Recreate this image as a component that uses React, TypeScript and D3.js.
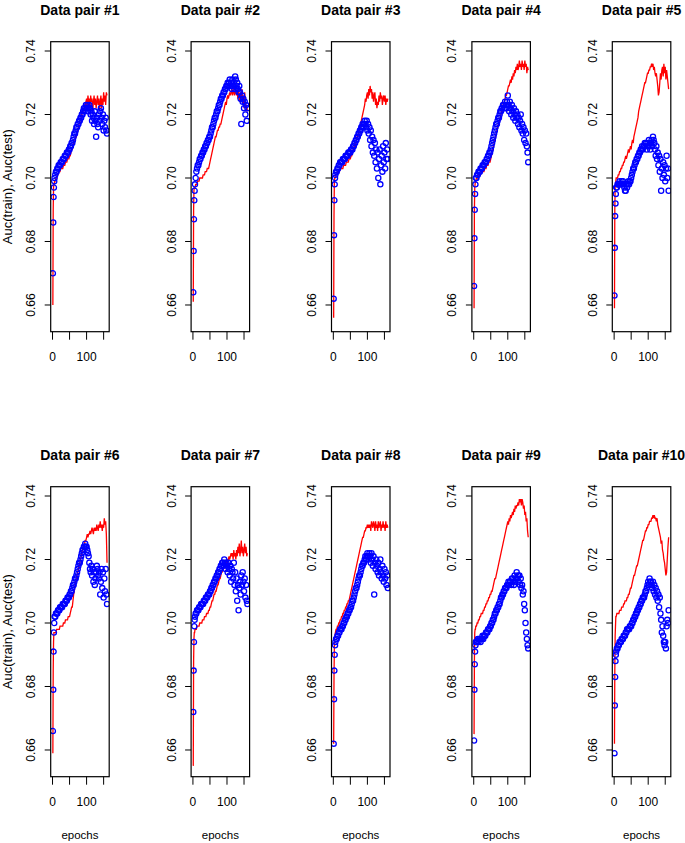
import { useRef, useEffect } from "react";
import * as d3 from "d3";

// epochs sampled: every epoch for the first six, then every second epoch
const epochs = [1, 2, 3, 4, 5, 6, ...d3.range(8, 161, 2)];

const panelTitles = [
  "Data pair #1", "Data pair #2", "Data pair #3", "Data pair #4", "Data pair #5",
  "Data pair #6", "Data pair #7", "Data pair #8", "Data pair #9", "Data pair #10",
];

const yTicks = [0.66, 0.68, 0.7, 0.72, 0.74];
const yTickLabels = ["0.66", "0.68", "0.70", "0.72", "0.74"];
const xTicks = [0, 50, 100, 150];
const xTickLabels = ["0", "", "100", ""];

// Auc(train) — red lines
const train1 = [
  .660, .690, .697, .698, .698, .699,
  .699, .700, .700, .701, .701, .702, .702, .702, .703, .703,
  .703, .703, .704, .704, .704, .705, .705, .705, .706, .706,
  .706, .707, .707, .708, .709, .709, .710, .711, .711, .712,
  .713, .713, .714, .715, .716, .717, .718, .718, .719, .720,
  .721, .722, .721, .723, .722, .724, .725, .723, .726, .724,
  .725, .722, .726, .724, .725, .721, .724, .726, .723, .725,
  .722, .724, .726, .723, .725, .721, .724, .726, .722, .725,
  .723, .727, .724, .726, .723, .727, .726,
];
const train2 = [
  .661, .690, .696, .697, .697, .697,
  .698, .698, .698, .699, .699, .699, .700, .700, .700, .700,
  .700, .701, .701, .701, .702, .702, .702, .703, .703, .703,
  .704, .705, .706, .707, .708, .709, .710, .711, .712, .713,
  .713, .714, .715, .715, .716, .716, .717, .717, .718, .719,
  .720, .721, .722, .723, .724, .723, .725, .726, .725, .726,
  .727, .726, .727, .728, .726, .727, .728, .726, .727, .728,
  .726, .727, .725, .728, .726, .724, .727, .725, .728, .723,
  .726, .722, .727, .724, .721, .723, .721,
];
const train3 = [
  .656, .688, .699, .700, .700, .701,
  .701, .701, .702, .702, .702, .702, .703, .703, .703, .703,
  .703, .704, .704, .704, .704, .705, .705, .705, .705, .706,
  .706, .706, .707, .707, .708, .709, .709, .710, .711, .711,
  .712, .713, .713, .714, .715, .716, .717, .718, .719, .720,
  .721, .722, .723, .725, .724, .726, .727, .725, .728, .726,
  .729, .727, .728, .725, .727, .724, .726, .727, .723, .725,
  .722, .724, .723, .726, .724, .727, .725, .726, .723, .725,
  .726, .724, .726, .723, .725, .724, .725,
];
const train4 = [
  .659, .690, .697, .698, .699, .699,
  .700, .700, .700, .701, .701, .701, .701, .702, .702, .702,
  .702, .702, .703, .703, .703, .704, .704, .704, .705, .705,
  .705, .706, .707, .708, .709, .710, .711, .712, .713, .714,
  .715, .716, .717, .717, .718, .719, .720, .721, .722, .723,
  .723, .724, .725, .726, .726, .727, .728, .729, .729, .730,
  .731, .730, .732, .731, .733, .732, .734, .733, .735, .734,
  .736, .734, .735, .737, .735, .736, .734, .737, .735, .736,
  .734, .737, .735, .736, .733, .735, .734,
];
const train5 = [
  .659, .690, .697, .698, .699, .700,
  .700, .700, .701, .701, .702, .702, .703, .703, .704, .704,
  .705, .705, .706, .707, .706, .707, .708, .709, .708, .709,
  .710, .709, .711, .712, .711, .713, .714, .715, .716, .717,
  .718, .719, .721, .722, .723, .724, .725, .726, .727, .728,
  .729, .730, .730, .731, .732, .733, .733, .734, .734, .735,
  .735, .736, .735, .736, .734, .735, .733, .732, .733, .731,
  .729, .726, .727, .730, .733, .731, .734, .735, .732, .736,
  .733, .735, .731, .734, .732, .730, .728,
];
const train6 = [
  .659, .685, .694, .697, .697, .697,
  .697, .697, .698, .698, .698, .698, .698, .699, .699, .699,
  .699, .699, .700, .700, .700, .701, .701, .701, .701, .702,
  .702, .702, .703, .704, .705, .705, .707, .709, .710, .712,
  .713, .714, .715, .716, .717, .718, .719, .720, .721, .722,
  .723, .724, .724, .725, .726, .726, .727, .728, .727, .728,
  .728, .729, .728, .729, .730, .729, .728, .730, .729, .730,
  .729, .731, .730, .729, .731, .730, .732, .730, .731, .729,
  .731, .730, .733, .731, .732, .728, .719,
];
const train7 = [
  .655, .688, .695, .697, .697, .698,
  .698, .698, .699, .699, .699, .699, .700, .700, .700, .700,
  .701, .701, .701, .702, .702, .702, .703, .703, .703, .704,
  .704, .705, .705, .706, .707, .707, .708, .709, .709, .710,
  .710, .711, .712, .712, .713, .714, .714, .715, .716, .716,
  .717, .717, .718, .718, .719, .719, .720, .719, .720, .721,
  .720, .721, .722, .721, .722, .720, .723, .721, .722, .720,
  .723, .721, .724, .722, .725, .721, .723, .726, .722, .724,
  .721, .723, .725, .722, .724, .721, .722,
];
const train8 = [
  .662, .683, .692, .695, .696, .697,
  .698, .698, .699, .699, .700, .700, .701, .701, .702, .702,
  .703, .703, .704, .704, .705, .705, .706, .706, .707, .707,
  .708, .709, .710, .711, .712, .713, .714, .715, .716, .717,
  .718, .719, .720, .721, .722, .723, .724, .725, .726, .727,
  .727, .728, .729, .729, .730, .730, .731, .730, .731, .730,
  .731, .729, .732, .731, .730, .732, .731, .729, .732, .730,
  .731, .729, .732, .730, .731, .732, .729, .731, .730, .732,
  .730, .731, .729, .732, .730, .731, .730,
];
const train9 = [
  .665, .688, .697, .698, .698, .699,
  .699, .700, .700, .701, .701, .702, .702, .703, .703, .703,
  .704, .704, .705, .705, .706, .706, .707, .707, .708, .708,
  .709, .709, .710, .710, .711, .712, .713, .714, .714, .715,
  .716, .717, .718, .719, .720, .721, .722, .723, .724, .725,
  .726, .727, .728, .729, .730, .731, .732, .731, .733, .732,
  .734, .733, .734, .735, .734, .736, .735, .737, .736, .737,
  .737, .738, .737, .739, .738, .739, .737, .739, .738, .736,
  .737, .734, .735, .732, .733, .729, .727,
];
const train10 = [
  .662, .685, .696, .699, .702, .702,
  .703, .703, .703, .703, .704, .704, .704, .705, .705, .705,
  .706, .706, .707, .707, .707, .708, .708, .709, .709, .710,
  .711, .711, .712, .713, .714, .715, .715, .716, .717, .718,
  .718, .719, .720, .721, .722, .723, .724, .725, .726, .726,
  .727, .728, .729, .729, .730, .730, .731, .731, .732, .732,
  .732, .733, .733, .734, .733, .734, .733, .733, .732, .733,
  .731, .730, .729, .728, .727, .725, .726, .723, .722, .720,
  .719, .717, .715, .716, .720, .724, .727,
];

// Auc(test) — blue circles
const test1 = [
  .670, .686, .694, .697, .699, .700,
  .701, .702, .702, .703, .703, .704, .704, .704, .705, .705,
  .705, .706, .706, .706, .707, .707, .707, .708, .708, .708,
  .709, .709, .710, .710, .711, .711, .712, .713, .714, .714,
  .715, .716, .716, .717, .717, .718, .718, .719, .719, .720,
  .720, .721, .722, .721, .722, .723, .722, .723, .721, .722,
  .723, .722, .720, .721, .718, .720, .719, .717, .721, .718,
  .713, .719, .717, .716, .720, .718, .721, .722, .719, .717,
  .720, .715, .718, .716, .719, .715, .714,
];
const test2 = [
  .664, .677, .687, .693, .696, .698,
  .700, .702, .703, .704, .704, .705, .706, .706, .707, .707,
  .708, .708, .709, .709, .710, .710, .711, .711, .712, .712,
  .713, .713, .714, .715, .716, .716, .717, .718, .719, .719,
  .720, .721, .721, .722, .723, .723, .724, .725, .725, .726,
  .726, .727, .727, .728, .728, .729, .729, .730, .729, .730,
  .731, .729, .730, .728, .731, .729, .730, .728, .732, .731,
  .729, .730, .728, .727, .729, .727, .725, .717, .726, .724,
  .725, .722, .724, .720, .723, .718, .722,
];
const test3 = [
  .662, .682, .693, .698, .700, .701,
  .702, .702, .703, .703, .704, .704, .705, .705, .705, .705,
  .706, .706, .706, .706, .707, .707, .707, .707, .708, .708,
  .708, .708, .709, .709, .709, .710, .710, .711, .711, .712,
  .712, .713, .713, .714, .714, .715, .715, .716, .716, .717,
  .716, .717, .718, .717, .716, .718, .715, .717, .714, .716,
  .712, .715, .710, .713, .708, .712, .707, .711, .705, .709,
  .703, .708, .700, .706, .709, .698, .704, .707, .702, .710,
  .705, .708, .703, .711, .706, .709, .706,
];
const test4 = [
  .666, .681, .690, .695, .698, .700,
  .700, .701, .701, .702, .702, .702, .703, .703, .703, .704,
  .704, .704, .705, .705, .705, .706, .706, .707, .707, .708,
  .708, .709, .710, .711, .712, .713, .714, .715, .716, .717,
  .717, .718, .719, .719, .720, .721, .721, .722, .722, .723,
  .723, .722, .724, .723, .722, .724, .726, .723, .721, .724,
  .722, .720, .723, .721, .719, .722, .720, .718, .721, .719,
  .720, .717, .719, .716, .718, .720, .715, .717, .714, .716,
  .712, .715, .711, .714, .710, .708, .705,
];
const test5 = [
  .663, .678, .688, .692, .695, .697,
  .697, .698, .698, .698, .699, .698, .698, .699, .698, .699,
  .698, .697, .696, .696, .698, .697, .698, .699, .698, .699,
  .699, .700, .701, .702, .703, .703, .704, .705, .705, .706,
  .706, .707, .707, .708, .708, .709, .709, .710, .709, .710,
  .710, .711, .710, .711, .709, .711, .710, .712, .710, .709,
  .711, .712, .710, .713, .712, .711, .709, .707, .710, .706,
  .708, .704, .707, .702, .706, .696, .703, .700, .705, .701,
  .704, .699, .703, .707, .700, .703, .696,
];
const test6 = [
  .666, .679, .691, .697, .700, .702,
  .702, .703, .703, .703, .704, .704, .704, .705, .705, .705,
  .705, .706, .706, .706, .706, .707, .707, .707, .708, .708,
  .708, .709, .709, .710, .710, .711, .712, .712, .713, .714,
  .714, .715, .716, .717, .718, .719, .719, .720, .721, .722,
  .723, .723, .724, .724, .725, .724, .724, .723, .722, .721,
  .719, .717, .716, .718, .715, .717, .713, .716, .712, .714,
  .716, .718, .717, .715, .714, .716, .709, .713, .717, .711,
  .716, .708, .714, .710, .717, .709, .706,
];
const test7 = [
  .672, .685, .694, .699, .701, .702,
  .703, .703, .704, .704, .704, .705, .705, .705, .706, .706,
  .706, .706, .707, .707, .707, .708, .708, .708, .709, .709,
  .709, .710, .710, .711, .711, .712, .712, .713, .713, .714,
  .714, .715, .715, .716, .716, .717, .717, .718, .718, .719,
  .719, .718, .720, .719, .717, .719, .718, .716, .719, .717,
  .715, .718, .713, .717, .716, .714, .719, .712, .716, .710,
  .714, .707, .712, .704, .711, .713, .709, .715, .712, .716,
  .713, .710, .714, .708, .712, .707, .706,
];
const test8 = [
  .662, .676, .685, .690, .693, .694,
  .695, .695, .696, .696, .697, .697, .698, .698, .698, .699,
  .699, .700, .700, .701, .701, .702, .702, .703, .703, .704,
  .704, .705, .705, .706, .707, .707, .708, .709, .710, .711,
  .711, .712, .713, .714, .715, .715, .716, .717, .718, .718,
  .719, .719, .720, .721, .720, .721, .722, .721, .720, .722,
  .721, .719, .722, .720, .718, .721, .709, .719, .717, .720,
  .718, .716, .719, .715, .717, .720, .716, .714, .718, .715,
  .713, .717, .714, .716, .712, .715, .711,
];
const test9 = [
  .663, .679, .687, .691, .693, .694,
  .694, .694, .695, .694, .695, .695, .694, .695, .695, .696,
  .695, .696, .696, .696, .697, .697, .697, .698, .698, .698,
  .699, .699, .700, .700, .701, .701, .702, .703, .703, .704,
  .704, .705, .705, .706, .706, .707, .708, .708, .709, .709,
  .710, .710, .711, .711, .711, .712, .712, .713, .712, .713,
  .713, .712, .714, .713, .714, .712, .715, .713, .714, .716,
  .714, .715, .713, .715, .712, .714, .711, .712, .709, .710,
  .706, .704, .700, .697, .695, .693, .692,
];
const test10 = [
  .659, .674, .683, .688, .690, .691,
  .692, .692, .693, .693, .694, .694, .694, .695, .695, .695,
  .696, .696, .696, .697, .697, .698, .698, .698, .698, .699,
  .699, .699, .700, .700, .701, .701, .702, .702, .703, .703,
  .704, .704, .705, .705, .706, .706, .707, .707, .708, .708,
  .708, .709, .710, .710, .711, .712, .713, .712, .714, .713,
  .713, .712, .711, .713, .710, .712, .709, .711, .708, .710,
  .707, .709, .705, .708, .703, .701, .697, .699, .696, .694,
  .693, .694, .692, .699, .701, .700, .704,
];

const trainAuc = [train1, train2, train3, train4, train5, train6, train7, train8, train9, train10];
const testAuc = [test1, test2, test3, test4, test5, test6, test7, test8, test9, test10];

const WIDTH = 685;
const HEIGHT = 843;
const FONT = "'Liberation Sans', Arial, Helvetica, sans-serif";

export default function App() {
  const svgRef = useRef<SVGSVGElement>(null);

  useEffect(() => {
    if (!svgRef.current) return;
    const svg = d3.select(svgRef.current);
    svg.selectAll("*").remove();

    const boxW = 58.5;
    const boxH = 290;
    const colStep = 140.4;
    const rowStep = 445;
    const left0 = 50.7;
    const top0 = 41.7;

    // R-style axes: data range plus 4% on each side
    const x = d3.scaleLinear().domain([-5.36, 166.36]).range([0, boxW]);
    const y = d3.scaleLinear().domain([0.65159, 0.74293]).range([boxH, 0]);

    const line = d3
      .line<number>()
      .x((_, i) => x(epochs[i]))
      .y((d) => y(d));

    svg
      .append("defs")
      .append("clipPath")
      .attr("id", "plot-clip")
      .append("rect")
      .attr("width", boxW)
      .attr("height", boxH);

    panelTitles.forEach((title, p) => {
      const col = p % 5;
      const row = Math.floor(p / 5);
      const g = svg
        .append("g")
        .attr("transform", `translate(${left0 + col * colStep},${top0 + row * rowStep})`);

      // data
      const plot = g.append("g").attr("clip-path", "url(#plot-clip)");
      plot
        .append("path")
        .attr("d", line(trainAuc[p]))
        .attr("fill", "none")
        .attr("stroke", "#ff0000")
        .attr("stroke-width", 1.3);

      plot
        .selectAll("circle")
        .data(testAuc[p])
        .enter()
        .append("circle")
        .attr("cx", (_, i) => x(epochs[i]))
        .attr("cy", (d) => y(d))
        .attr("r", 2.6)
        .attr("fill", "none")
        .attr("stroke", "#0000ff")
        .attr("stroke-width", 1.3);

      // box
      g.append("rect")
        .attr("width", boxW)
        .attr("height", boxH)
        .attr("fill", "none")
        .attr("stroke", "#000")
        .attr("stroke-width", 1.2);

      // y axis
      yTicks.forEach((t, i) => {
        g.append("line")
          .attr("x1", 0)
          .attr("x2", -6)
          .attr("y1", y(t))
          .attr("y2", y(t))
          .attr("stroke", "#000");
        g.append("text")
          .attr("transform", `translate(-15.5,${y(t)}) rotate(-90)`)
          .attr("text-anchor", "middle")
          .attr("font-family", FONT)
          .attr("font-size", "12px")
          .attr("fill", "#000")
          .text(yTickLabels[i]);
      });

      // x axis
      xTicks.forEach((t, i) => {
        g.append("line")
          .attr("x1", x(t))
          .attr("x2", x(t))
          .attr("y1", boxH)
          .attr("y2", boxH + 8)
          .attr("stroke", "#000");
        if (xTickLabels[i]) {
          g.append("text")
            .attr("x", x(t))
            .attr("y", boxH + 29)
            .attr("text-anchor", "middle")
            .attr("font-family", FONT)
            .attr("font-size", "12px")
            .attr("fill", "#000")
            .text(xTickLabels[i]);
        }
      });

      // title
      g.append("text")
        .attr("x", boxW / 2)
        .attr("y", -27)
        .attr("text-anchor", "middle")
        .attr("font-family", FONT)
        .attr("font-size", "14px")
        .attr("font-weight", "bold")
        .attr("fill", "#000")
        .text(title);

      if (col === 0) {
        g.append("text")
          .attr("transform", `translate(${12 - left0},${boxH / 2}) rotate(-90)`)
          .attr("text-anchor", "middle")
          .attr("font-family", FONT)
          .attr("font-size", "13px")
          .attr("fill", "#000")
          .text("Auc(train), Auc(test)");
      }
      if (row === 1) {
        g.append("text")
          .attr("x", boxW / 2)
          .attr("y", HEIGHT - 4 - top0 - rowStep)
          .attr("text-anchor", "middle")
          .attr("font-family", FONT)
          .attr("font-size", "11.5px")
          .attr("fill", "#000")
          .text("epochs");
      }
    });
  }, []);

  return (
    <svg
      ref={svgRef}
      width={WIDTH}
      height={HEIGHT}
      style={{ position: "absolute", left: 0, top: 0, background: "#fff" }}
      role="img"
      aria-label="AUC of train and test sets over epochs for ten data pairs"
    />
  );
}
